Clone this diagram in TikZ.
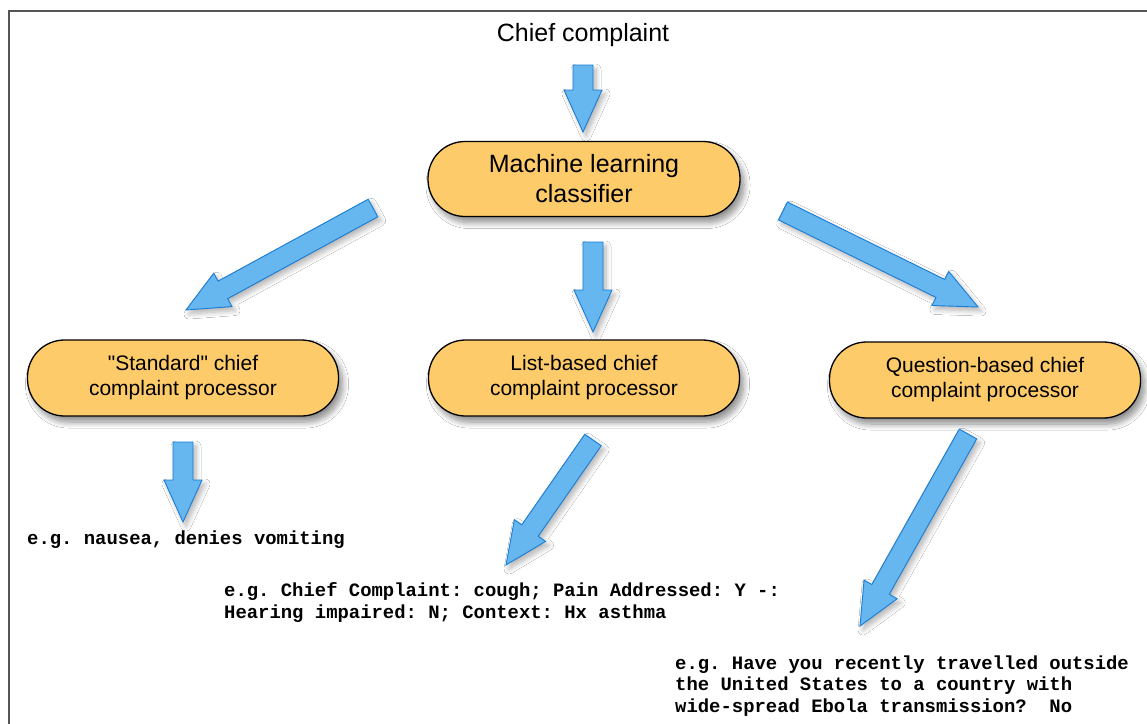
\documentclass[tikz,border=0pt]{standalone}
\usepackage{fontspec}
\setmainfont{Liberation Sans}
\newfontfamily\monob{Liberation Mono}
\usetikzlibrary{calc,shadows.blur}
\frenchspacing

\definecolor{nodefill}{RGB}{253,203,105}
\definecolor{arrowfill}{RGB}{102,182,240}
\definecolor{arrowline}{RGB}{25,125,212}
\definecolor{framecol}{RGB}{85,85,85}

\tikzset{
  procbox/.style={draw=black, line width=1.3pt, fill=nodefill, rounded corners=37pt,
    minimum width=311pt, minimum height=76pt, align=center,
    font=\fontsize{21}{25}\selectfont,
    blur shadow={shadow xshift=4pt, shadow yshift=-6pt, shadow blur steps=10,
      shadow blur radius=6pt, shadow opacity=45}},
  bigtext/.style={font=\fontsize{25}{30}\selectfont},
  example/.style={anchor=west, inner sep=0pt, align=left,
    font=\monob\bfseries\fontsize{18.9}{21.3}\selectfont},
  blockarrow/.style={draw=arrowline, line width=0.9pt, fill=arrowfill, line join=miter,
    blur shadow={shadow xshift=3pt, shadow yshift=-4pt, shadow blur steps=8,
      shadow blur radius=5pt, shadow opacity=30}},
}

\newcommand\blockarr[2]{%
  \coordinate (hb) at ($(#2)!42pt!(#1)$);
  \path[blockarrow] ($(#1)!10pt!90:(#2)$) -- ($(hb)!10pt!90:(#2)$)
    -- ($(hb)!19pt!90:(#2)$) -- (#2) -- ($(hb)!19pt!-90:(#2)$)
    -- ($(hb)!10pt!-90:(#2)$) -- ($(#1)!10pt!-90:(#2)$) -- cycle;
}

\begin{document}
\begin{tikzpicture}[x=1pt,y=-1pt]
\useasboundingbox (0,0) rectangle (1147,723);
\clip (0,0) rectangle (1147,723);
\fill[white] (0,0) rectangle (1147,723);
\draw[framecol, line width=1.5pt] (9,11) rectangle (1170,745);

% nodes
\node[bigtext] (cc) at (583,35) {Chief complaint};
\node[procbox, font=\fontsize{25}{30}\selectfont, minimum width=312pt, minimum height=75pt] (ml) at (584,179) {Machine learning\\classifier};
\node[procbox] (std) at (183,378) {\textquotedbl Standard\textquotedbl{} chief\\complaint processor};
\node[procbox] (lst) at (584,378) {List-based chief\\complaint processor};
\node[procbox] (qst) at (985,380) {Question-based chief\\complaint processor};

\node[example] (exs) at (27,540) {e.g. nausea, denies vomiting};
\node[example] (exl) at (224,602.5) {e.g. Chief Complaint: cough; Pain Addressed: Y -:\\Hearing impaired: N; Context: Hx asthma};
\node[example] (exq) at (675,686) {e.g. Have you recently travelled outside\\the United States to a country with\\wide-spread Ebola transmission?\ \ No};

% arrow end points
\coordinate (a1s) at (583,65);  \coordinate (a1e) at (583,132);
\coordinate (a2s) at (373,208); \coordinate (a2e) at (186,310);
\coordinate (a3s) at (593,242); \coordinate (a3e) at (593,332);
\coordinate (a4s) at (783,211); \coordinate (a4e) at (978,307);
\coordinate (a5s) at (183,442); \coordinate (a5e) at (183,522);
\coordinate (a6s) at (593,440); \coordinate (a6e) at (506,565);
\coordinate (a7s) at (968,434); \coordinate (a7e) at (860,626);

\blockarr{a1s}{a1e}
\blockarr{a2s}{a2e}
\blockarr{a3s}{a3e}
\blockarr{a4s}{a4e}
\blockarr{a5s}{a5e}
\blockarr{a6s}{a6e}
\blockarr{a7s}{a7e}
\end{tikzpicture}
\end{document}
